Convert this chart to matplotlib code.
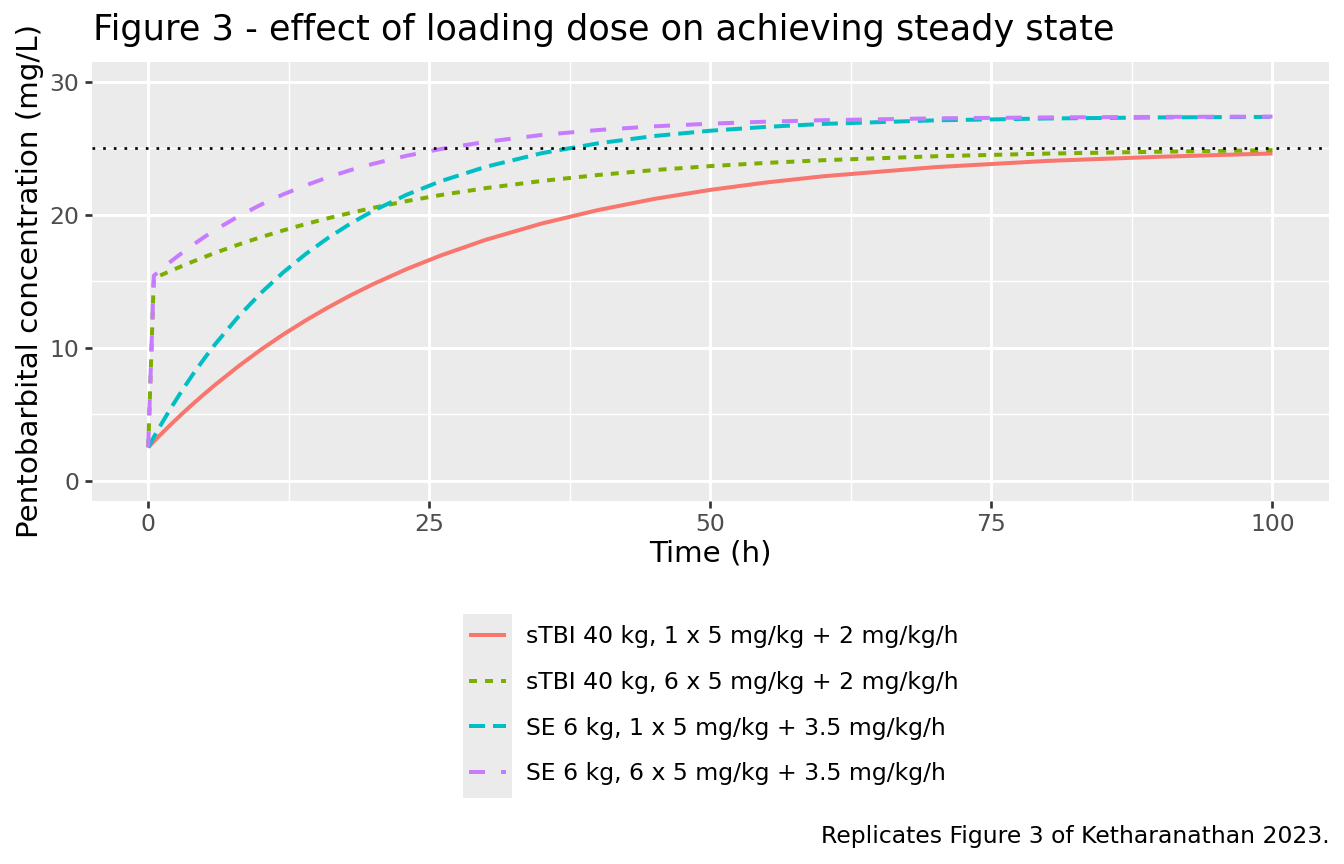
import matplotlib
matplotlib.use("Agg")
import matplotlib.pyplot as plt
from matplotlib.patches import Rectangle
from matplotlib.ticker import FixedLocator

# ---- data ----
time_h = [0, 0.5, 1, 2, 3, 4, 5, 6, 8, 10, 12, 14, 16, 18, 20, 23, 26, 30, 35,
          40, 45, 50, 55, 60, 70, 80, 90, 100]

stbi_1x = [2.50, 2.94, 3.37, 4.21, 5.01, 5.78, 6.52, 7.23, 8.58, 9.83, 10.98,
           12.04, 13.02, 13.93, 14.77, 15.91, 16.92, 18.10, 19.33, 20.34, 21.18,
           21.86, 22.42, 22.88, 23.57, 24.04, 24.35, 24.60]
stbi_6x = [2.50, 15.20, 15.40, 15.77, 16.13, 16.48, 16.81, 17.14, 17.74, 18.30,
           18.81, 19.29, 19.73, 20.13, 20.51, 21.02, 21.47, 21.99, 22.53, 22.98,
           23.35, 23.65, 23.89, 24.09, 24.39, 24.59, 24.73, 24.85]
se_1x = [2.50, 3.27, 4.01, 5.43, 6.76, 8.02, 9.19, 10.30, 12.31, 14.09, 15.65,
         17.03, 18.25, 19.33, 20.28, 21.50, 22.51, 23.59, 24.62, 25.36, 25.91,
         26.31, 26.60, 26.82, 27.09, 27.23, 27.31, 27.35]
se_6x = [2.50, 15.40, 15.77, 16.47, 17.12, 17.74, 18.32, 18.87, 19.86, 20.74,
         21.52, 22.20, 22.81, 23.35, 23.82, 24.43, 24.93, 25.47, 25.99, 26.36,
         26.64, 26.84, 26.99, 27.10, 27.24, 27.31, 27.35, 27.37]

series = [stbi_1x, stbi_6x, se_1x, se_6x]
labels = ["sTBI 40 kg, 1 x 5 mg/kg + 2 mg/kg/h",
          "sTBI 40 kg, 6 x 5 mg/kg + 2 mg/kg/h",
          "SE 6 kg, 1 x 5 mg/kg + 3.5 mg/kg/h",
          "SE 6 kg, 6 x 5 mg/kg + 3.5 mg/kg/h"]
target_conc = 25
x_ticks = [0, 25, 50, 75, 100]
y_ticks = [0, 10, 20, 30]

title = "Figure 3 - effect of loading dose on achieving steady state"
caption = "Replicates Figure 3 of Ketharanathan 2023."

# ---- style ----
colors = ["#F8766D", "#7CAE00", "#00BFC4", "#C77CFF"]
dash_styles = [None, (0, (2, 2)), (0, (4, 2)), (0, (4, 4))]

W, H, DPI = 1344, 864, 192
fig = plt.figure(figsize=(W / DPI, H / DPI), dpi=DPI)
fig.patch.set_facecolor("white")

def fx(px):
    return px / W

def fy(py):
    return 1 - py / H

ax = fig.add_axes([fx(92), fy(500.5), fx(1328.7) - fx(92), fy(61.7) - fy(500.5)])
ax.set_facecolor("#EBEBEB")
for s in ax.spines.values():
    s.set_visible(False)

handles = []
for vals, lab, col, ds in zip(series, labels, colors, dash_styles):
    if ds is None:
        ln, = ax.plot(time_h, vals, color=col, lw=1.5, label=lab,
                      solid_capstyle="butt", zorder=3)
    else:
        ln, = ax.plot(time_h, vals, color=col, lw=1.5, label=lab,
                      linestyle=ds, dash_capstyle="butt", zorder=3)
    handles.append(ln)

ax.axhline(target_conc, color="black", lw=1.0, linestyle=(0, (1, 3)), zorder=4)

ax.set_xlim(-5, 105)
ax.set_ylim(-1.5, 31.5)
ax.xaxis.set_major_locator(FixedLocator(x_ticks))
ax.yaxis.set_major_locator(FixedLocator(y_ticks))
ax.xaxis.set_minor_locator(FixedLocator([12.5, 37.5, 62.5, 87.5]))
ax.yaxis.set_minor_locator(FixedLocator([5, 15, 25]))
ax.grid(which="major", color="white", lw=1.1, zorder=0)
ax.grid(which="minor", color="white", lw=0.55, zorder=0)
ax.set_axisbelow(True)
ax.tick_params(which="major", length=2.6, width=1.0, color="#333333",
               labelsize=8.8, labelcolor="#4D4D4D", pad=2.2)
ax.tick_params(which="minor", length=0)

ax.set_xlabel("Time (h)", fontsize=11, color="black", labelpad=1.3)
ax.set_ylabel("Pentobarbital concentration (mg/L)", fontsize=11,
              color="black", labelpad=2.0)

fig.text(fx(93), fy(40), title, fontsize=13.2, ha="left", va="baseline",
         color="black")
fig.text(fx(1330), fy(836), caption, fontsize=8.8, ha="right", va="center",
         color="black")

# legend key background
fig.patches.append(Rectangle((fx(463), fy(798)), fx(512) - fx(463),
                             fy(614) - fy(798), transform=fig.transFigure,
                             facecolor="#EBEBEB", edgecolor="none", zorder=0))
leg = fig.legend(handles=handles, labels=labels, loc="upper left",
                 bbox_to_anchor=(fx(469), fy(625)), frameon=False,
                 fontsize=8.8, handlelength=1.57, handletextpad=0.85,
                 labelspacing=0.97, borderpad=0, borderaxespad=0)

fig.savefig("out.png", dpi=DPI)
